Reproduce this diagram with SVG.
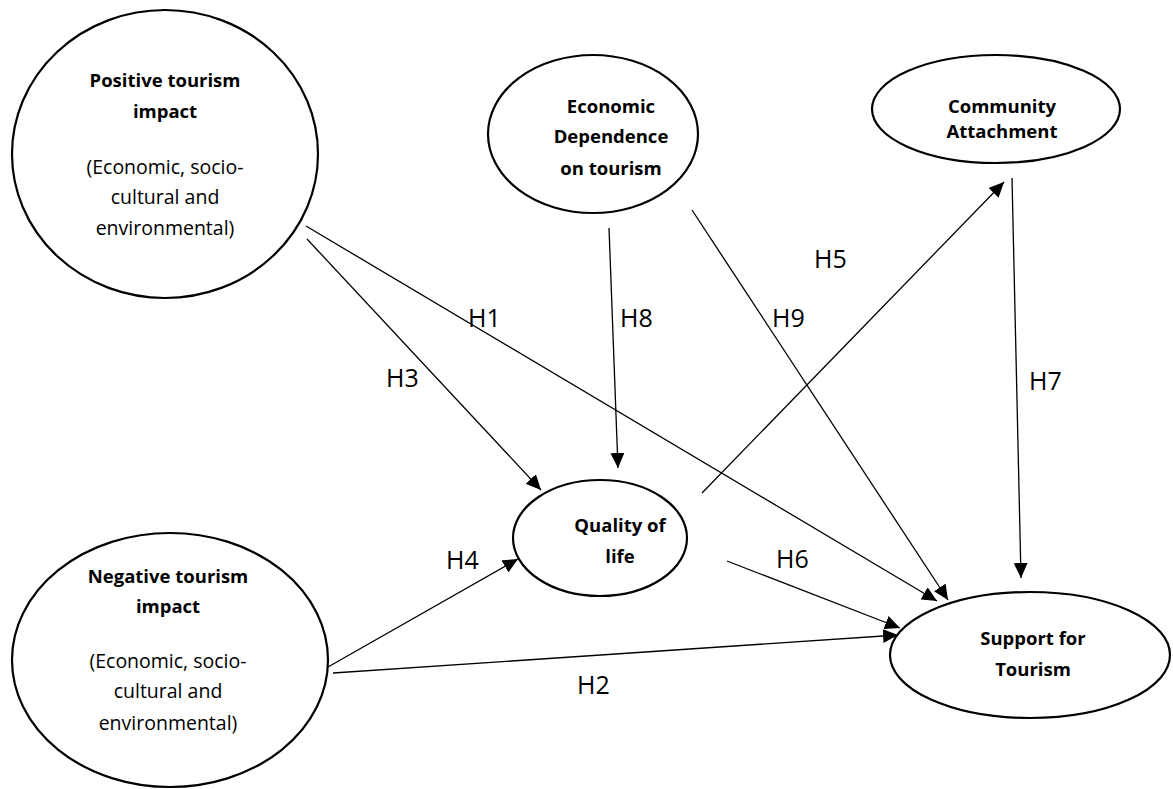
<svg xmlns="http://www.w3.org/2000/svg" width="1173" height="789" viewBox="0 0 1173 789">
<defs>
<marker id="arr" markerUnits="userSpaceOnUse" markerWidth="16" markerHeight="14" refX="15" refY="7" orient="auto">
<path d="M0,0 L15,7 L0,14 z" fill="#000"/>
</marker>
<style>
.node{fill:#fff;stroke:#000;stroke-width:2.2}
.b{font-family:"Open Sans","Noto Sans",sans-serif;font-weight:bold;font-size:18.5px;text-anchor:middle;fill:#000}
.r{font-family:"Open Sans","Noto Sans",sans-serif;font-size:19.5px;text-anchor:middle;fill:#000}
.e{stroke:#000;stroke-width:1.3;fill:none;marker-end:url(#arr)}
.lbl{font-family:"Open Sans","Noto Sans",sans-serif;font-size:25px;fill:#000}
</style>
</defs>
<rect width="1173" height="789" fill="#fff"/>
<g id="positive">
<ellipse class="node" cx="165" cy="154" rx="153" ry="144"/>
<text class="b" x="165" y="87">Positive tourism</text>
<text class="b" x="165" y="118">impact</text>
<text class="r" x="165" y="174">(Economic, socio-</text>
<text class="r" x="165" y="204">cultural and</text>
<text class="r" x="165" y="235">environmental)</text>
</g>
<g id="negative">
<ellipse class="node" cx="170" cy="660" rx="158" ry="127"/>
<text class="b" x="168" y="583">Negative tourism</text>
<text class="b" x="168" y="613">impact</text>
<text class="r" x="168" y="668">(Economic, socio-</text>
<text class="r" x="168" y="698">cultural and</text>
<text class="r" x="168" y="730">environmental)</text>
</g>
<g id="dependence">
<ellipse class="node" cx="593" cy="134" rx="105" ry="79"/>
<text class="b" x="611" y="113">Economic</text>
<text class="b" x="611" y="143">Dependence</text>
<text class="b" x="611" y="175">on tourism</text>
</g>
<g id="attachment">
<ellipse class="node" cx="996" cy="109" rx="124" ry="54"/>
<text class="b" x="1002" y="113">Community</text>
<text class="b" x="1002" y="138">Attachment</text>
</g>
<g id="quality">
<ellipse class="node" cx="600" cy="538" rx="87" ry="58"/>
<text class="b" x="620" y="532">Quality of</text>
<text class="b" x="620" y="563">life</text>
</g>
<g id="support">
<ellipse class="node" cx="1030" cy="655" rx="140" ry="63"/>
<text class="b" x="1033" y="645">Support for</text>
<text class="b" x="1033" y="676">Tourism</text>
</g>
<g id="connectors">
<line class="e" x1="306" y1="226" x2="937" y2="601"/>
<line class="e" x1="307" y1="239" x2="541" y2="490"/>
<line class="e" x1="609" y1="228" x2="618" y2="468"/>
<line class="e" x1="692" y1="210" x2="948" y2="600"/>
<line class="e" x1="702" y1="493" x2="1004" y2="182"/>
<line class="e" x1="1012" y1="178" x2="1021" y2="578"/>
<line class="e" x1="328" y1="667" x2="518" y2="559"/>
<line class="e" x1="333" y1="673" x2="898" y2="635"/>
<line class="e" x1="727" y1="561" x2="900" y2="628"/>
</g>
<g id="labels">
<text class="lbl" x="468" y="327">H1</text>
<text class="lbl" x="386" y="387">H3</text>
<text class="lbl" x="620" y="327">H8</text>
<text class="lbl" x="772" y="327">H9</text>
<text class="lbl" x="814" y="268">H5</text>
<text class="lbl" x="1029" y="390">H7</text>
<text class="lbl" x="446" y="569">H4</text>
<text class="lbl" x="776" y="568">H6</text>
<text class="lbl" x="577" y="694">H2</text>
</g>
</svg>
